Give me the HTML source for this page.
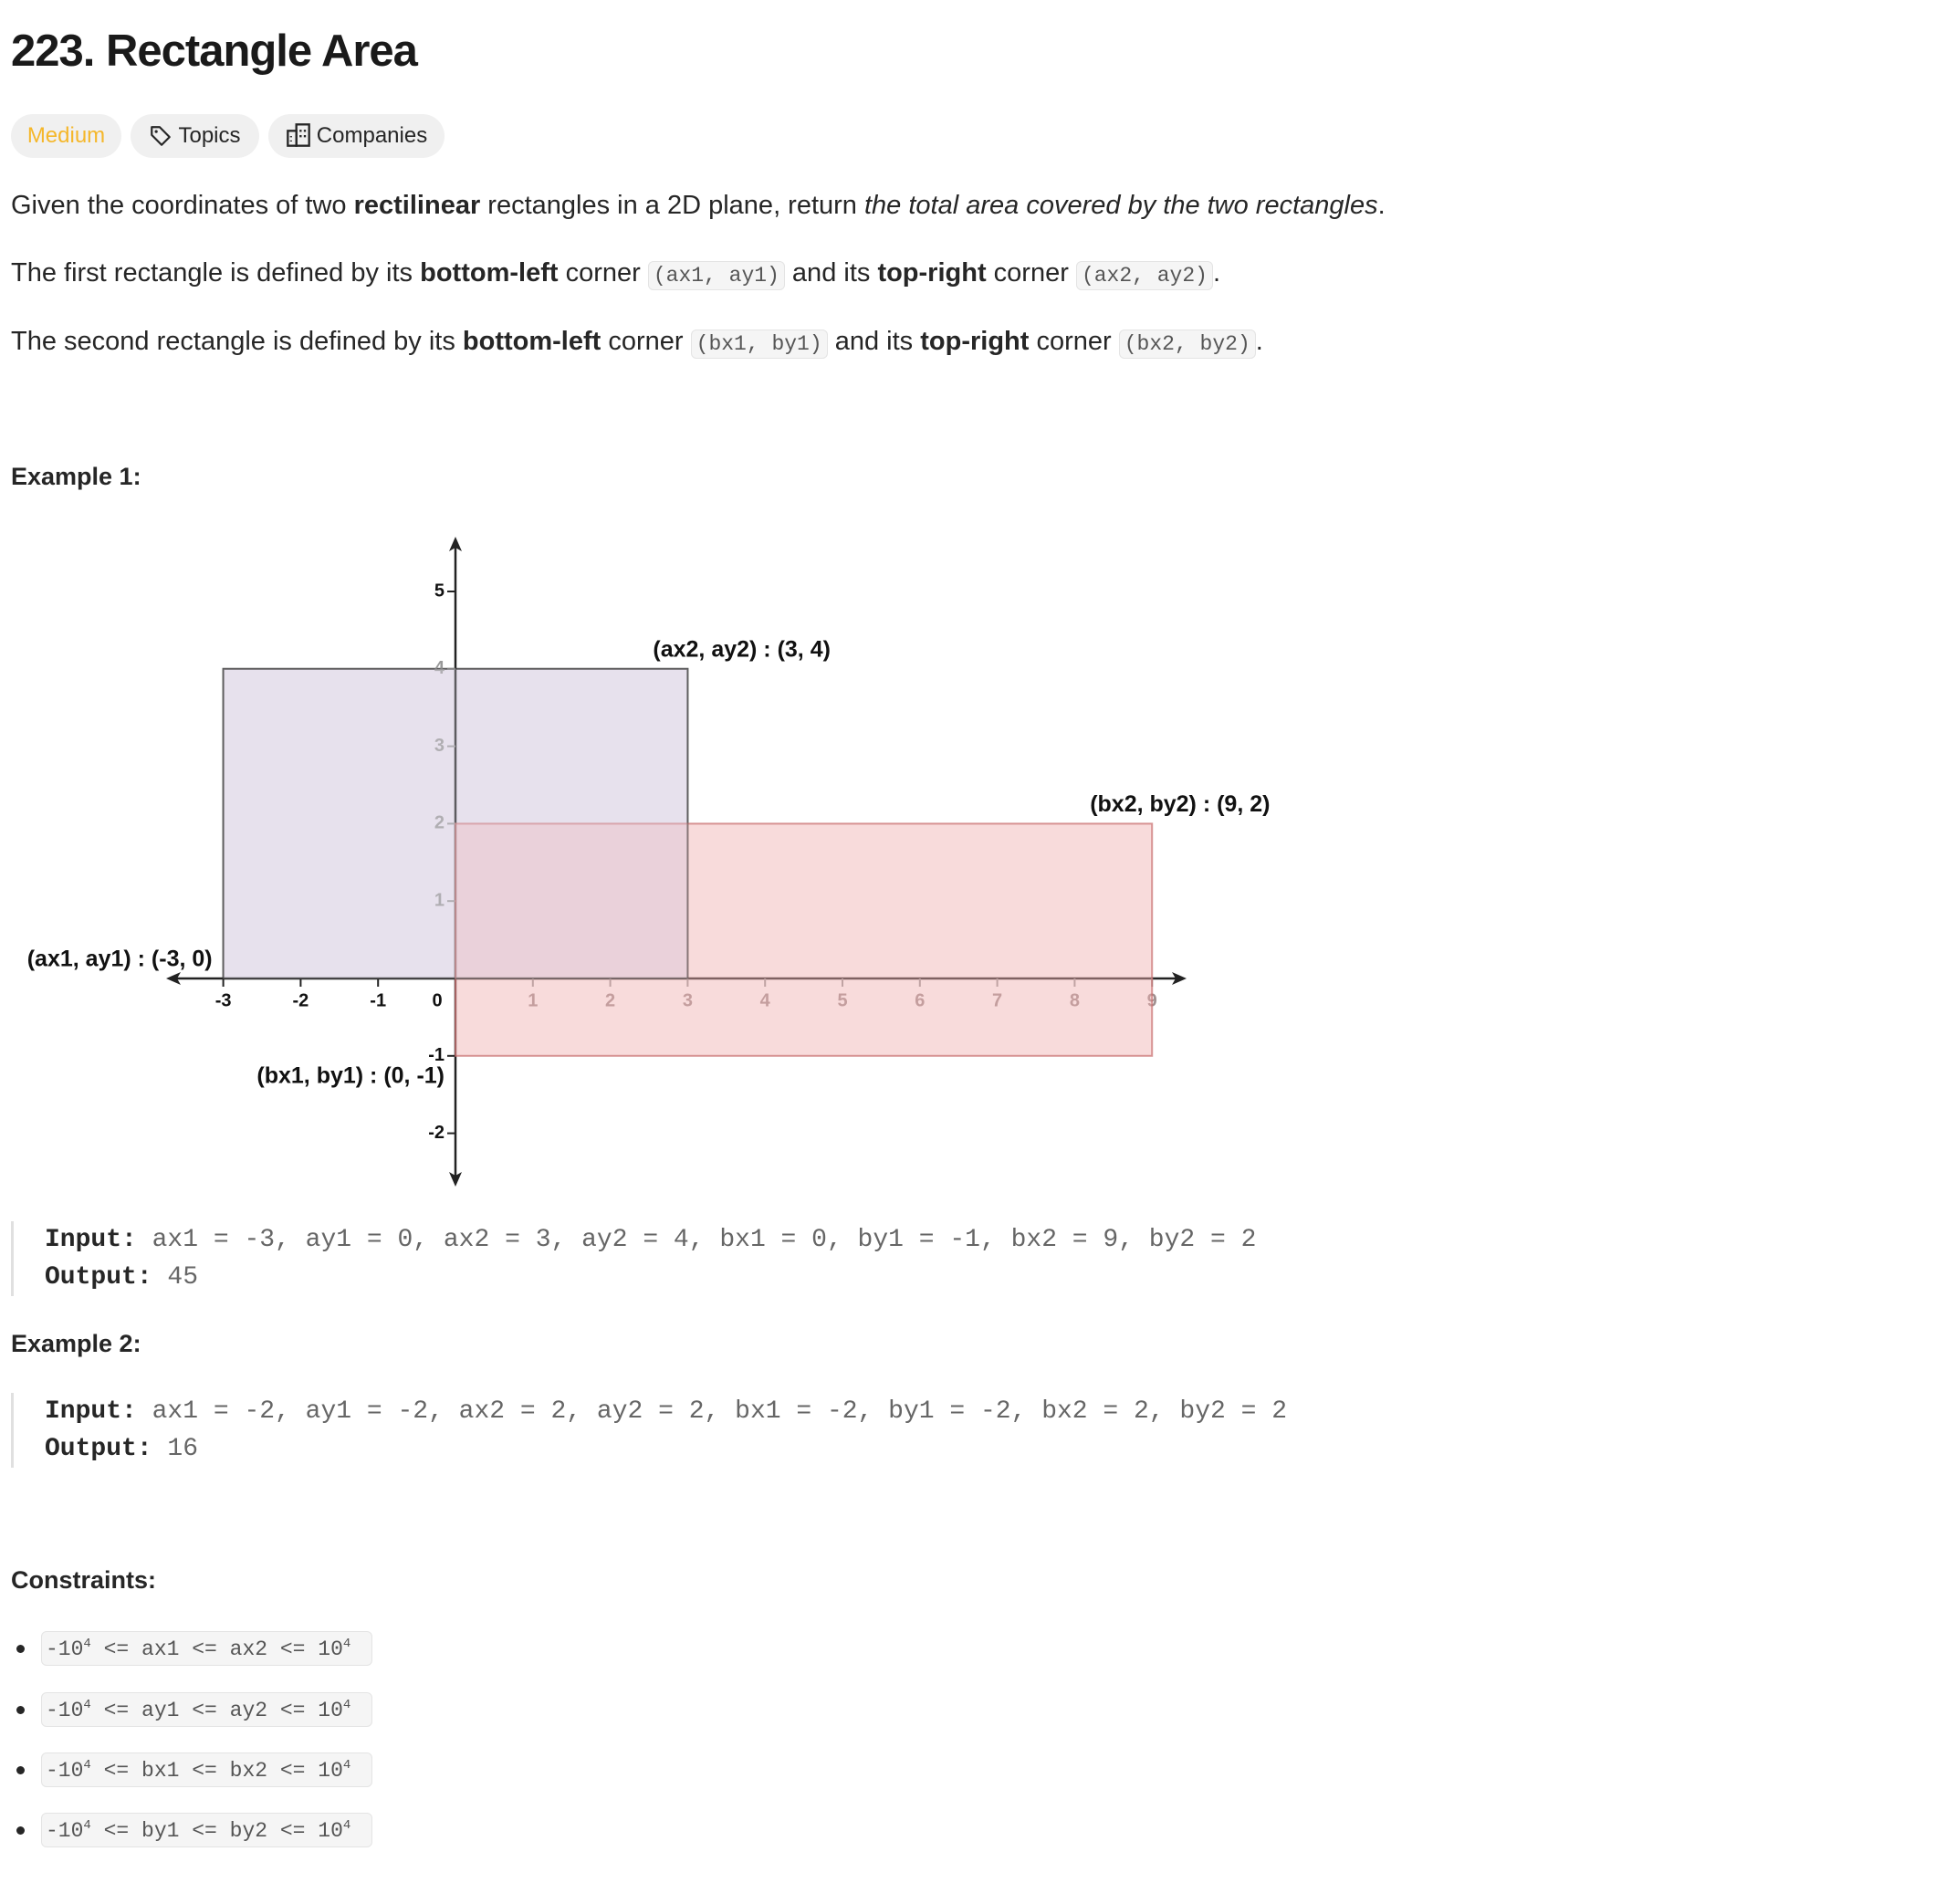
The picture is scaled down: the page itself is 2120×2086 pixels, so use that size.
<!DOCTYPE html>
<html><head><meta charset="utf-8"><style>
html,body{margin:0;padding:0;background:#fff;}
body{width:2120px;height:2086px;position:relative;overflow:hidden;font-family:"Liberation Sans",sans-serif;color:#262626;}
.a{position:absolute;white-space:nowrap;}
h1{position:absolute;left:12px;top:28px;margin:0;font-size:49px;font-weight:bold;letter-spacing:-1px;color:#1a1a1a;}
.pill{position:absolute;top:125px;height:48px;border-radius:24px;background:#f0f0f0;font-size:24px;line-height:48px;text-align:center;color:#262626;}
p.t{position:absolute;left:12px;margin:0;font-size:29px;line-height:36px;white-space:nowrap;}
code{font-family:"Liberation Mono",monospace;font-size:23px;color:#555;background:#f5f5f5;border:1px solid #e4e4e4;border-radius:6px;padding:2px 5px;}
.ex{position:absolute;left:12px;font-size:27px;font-weight:bold;}
.pre{position:absolute;left:12px;border-left:3px solid #e0e0e0;padding-left:34px;font-family:"Liberation Mono",monospace;font-size:28px;line-height:41px;color:#666;white-space:pre;}
.pre b{color:#262626;}
.li{position:absolute;left:45px;height:38px;width:363px;background:#f5f5f5;border:1px solid #e4e4e4;border-radius:6px;font-family:"Liberation Mono",monospace;font-size:23px;line-height:38px;color:#555;padding-left:4px;box-sizing:border-box;}
.li sup{font-size:14px;vertical-align:9px;line-height:0;}
.dot{position:absolute;left:18px;width:9px;height:9px;border-radius:50%;background:#262626;}
</style></head><body>
<h1>223. Rectangle Area</h1>
<div class="pill" style="left:12px;width:121px;color:#f5b72a;">Medium</div>
<div class="pill" style="left:143px;width:141px;"><svg width="26" height="26" viewBox="0 0 24 24" style="vertical-align:-6px;margin-right:6px"><path d="M3 3h8l10 10-8 8L3 11z" fill="none" stroke="#262626" stroke-width="2" stroke-linejoin="round"/><circle cx="7.5" cy="7.5" r="1.5" fill="#262626"/></svg>Topics</div>
<div class="pill" style="left:294px;width:193px;"><svg width="28" height="28" viewBox="0 0 24 24" style="vertical-align:-6px;margin-right:6px"><rect x="2" y="8" width="8" height="14" fill="none" stroke="#262626" stroke-width="2"/><rect x="10" y="2" width="12" height="20" fill="none" stroke="#262626" stroke-width="2"/><path d="M14 7v2M18 7v2M14 12v2M18 12v2M5 13v1M5 17v1" stroke="#262626" stroke-width="2"/></svg>Companies</div>

<p class="t" style="top:207px;">Given the coordinates of two <b>rectilinear</b> rectangles in a 2D plane, return <i>the total area covered by the two rectangles</i>.</p>
<p class="t" style="top:281px;">The first rectangle is defined by its <b>bottom-left</b> corner <code>(ax1, ay1)</code> and its <b>top-right</b> corner <code>(ax2, ay2)</code>.</p>
<p class="t" style="top:356px;">The second rectangle is defined by its <b>bottom-left</b> corner <code>(bx1, by1)</code> and its <b>top-right</b> corner <code>(bx2, by2)</code>.</p>

<div class="ex" style="top:507px;">Example 1:</div>

<svg id="chart" class="a" style="left:0;top:0" width="2120" height="1330"></svg>

<div class="pre" style="top:1338px;"><b>Input:</b> ax1 = -3, ay1 = 0, ax2 = 3, ay2 = 4, bx1 = 0, by1 = -1, bx2 = 9, by2 = 2
<b>Output:</b> 45</div>
<div class="ex" style="top:1457px;">Example 2:</div>
<div class="pre" style="top:1526px;"><b>Input:</b> ax1 = -2, ay1 = -2, ax2 = 2, ay2 = 2, bx1 = -2, by1 = -2, bx2 = 2, by2 = 2
<b>Output:</b> 16</div>
<div class="ex" style="top:1716px;">Constraints:</div>
<div class="dot" style="top:1802px"></div>
<div class="li" style="top:1787px">-10<sup>4</sup> &lt;= ax1 &lt;= ax2 &lt;= 10<sup>4</sup></div>
<div class="dot" style="top:1869px"></div>
<div class="li" style="top:1854px">-10<sup>4</sup> &lt;= ay1 &lt;= ay2 &lt;= 10<sup>4</sup></div>
<div class="dot" style="top:1935px"></div>
<div class="li" style="top:1920px">-10<sup>4</sup> &lt;= bx1 &lt;= bx2 &lt;= 10<sup>4</sup></div>
<div class="dot" style="top:2001px"></div>
<div class="li" style="top:1986px">-10<sup>4</sup> &lt;= by1 &lt;= by2 &lt;= 10<sup>4</sup></div>

<script>
const xTicks = [-3,-2,-1,1,2,3,4,5,6,7,8,9];
const yTicks = [5,4,3,2,1,-1,-2];
const rectA = [-3,0,3,4];
const rectB = [0,-1,9,2];
const cornerLabels = ["(ax1, ay1) : (-3, 0)","(ax2, ay2) : (3, 4)","(bx1, by1) : (0, -1)","(bx2, by2) : (9, 2)"];

const X0=499, Y0=1072, U=84.8;
const sx=v=>X0+v*U, sy=v=>Y0-v*U;
const svg=document.getElementById('chart');
const NS='http://www.w3.org/2000/svg';
function mk(tag,attrs){const e=document.createElementNS(NS,tag);for(const k in attrs)e.setAttribute(k,attrs[k]);svg.appendChild(e);return e;}
function txt(x,y,s,anchor,fill,size){const t=mk('text',{x:x,y:y,'text-anchor':anchor,fill:fill,'font-size':size,'font-weight':'bold','font-family':'Liberation Sans, sans-serif','dominant-baseline':'middle'});t.textContent=s;return t;}

const ra=mk('rect',{x:sx(rectA[0]),y:sy(rectA[3]),width:sx(rectA[2])-sx(rectA[0]),height:sy(rectA[1])-sy(rectA[3]),fill:'#e7e1ed',stroke:'#555',"stroke-width":2});



const ax=mk('line',{x1:190,y1:Y0,x2:1290,y2:Y0,stroke:'#222','stroke-width':2.5});


mk('path',{d:`M182 ${Y0} l16 -7 l-4 7 l4 7z`,fill:'#222'});
mk('path',{d:`M1300 ${Y0} l-16 -7 l4 7 l-4 7z`,fill:'#222'});
const ay=mk('line',{x1:X0,y1:596,x2:X0,y2:1292,stroke:'#222','stroke-width':2.5});


mk('path',{d:`M${X0} 588 l-7 16 l7 -4 l7 4z`,fill:'#222'});
mk('path',{d:`M${X0} 1300 l-7 -16 l7 4 l7 -4z`,fill:'#222'});

xTicks.forEach(v=>{
  const x=sx(v);
  mk('line',{x1:x,y1:Y0,x2:x,y2:Y0+9,stroke:v>0?'#999':'#222','stroke-width':2});
  const t=txt(x,Y0+25,String(v),'middle',v>0?'#a09090':'#111',20);
  
  
});
const z=txt(X0-20,Y0+25,'0','middle','#111',20);


yTicks.forEach(v=>{
  const y=sy(v);
  const inside=(v>=1&&v<=4);
  mk('line',{x1:X0-9,y1:y,x2:X0,y2:y,stroke:inside?'#999':'#222','stroke-width':2});
  const t=txt(X0-12,y,String(v),'end',inside?'#999':'#111',20);
  
  
});

const rb=mk('rect',{x:sx(rectB[0]),y:sy(rectB[3]),width:sx(rectB[2])-sx(rectB[0]),height:sy(rectB[1])-sy(rectB[3]),fill:'rgba(240,175,175,0.45)',stroke:'rgba(200,110,110,0.7)',"stroke-width":2});


const ra2=mk('rect',{x:sx(rectA[0]),y:sy(rectA[3]),width:sx(rectA[2])-sx(rectA[0]),height:sy(rectA[1])-sy(rectA[3]),fill:'rgba(231,225,237,0.3)',stroke:'rgba(80,80,80,0.35)',"stroke-width":2});



const L=[
  [sx(rectA[0])-12,sy(rectA[1])-20,'end'],
  [sx(rectA[2])-38,sy(rectA[3])-20,'start'],
  [X0-12,sy(rectB[1])+23,'end'],
  [sx(rectB[2])-68,sy(rectB[3])-20,'start']
];
cornerLabels.forEach((s,i)=>{
  const t=txt(L[i][0],L[i][1],s,L[i][2],'#111',25);
  
  
});
</script>
</body></html>
